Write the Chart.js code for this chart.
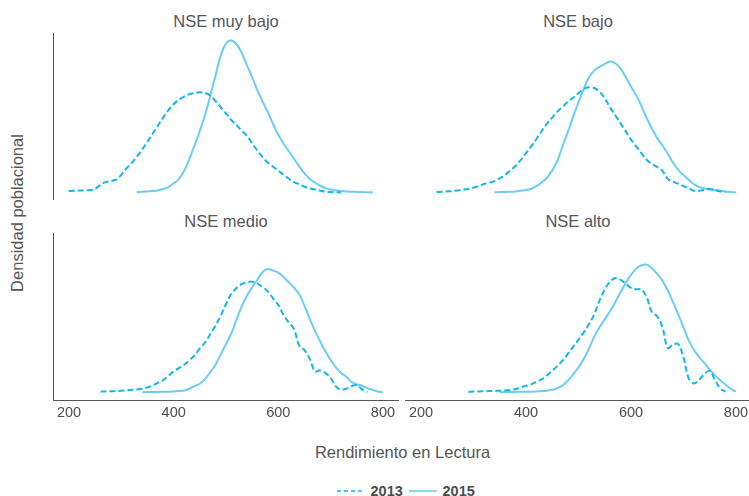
<!DOCTYPE html>
<html lang="es">
<head>
<meta charset="utf-8">
<title>Densidad poblacional según NSE</title>
<script src="https://cdn.jsdelivr.net/npm/chart.js@4.4.1/dist/chart.umd.min.js"></script>
<style>
  html, body { margin: 0; padding: 0; background: #fff; overflow: hidden; }
  body { width: 749px; height: 496px; position: relative; font-family: 'Liberation Sans', Arial, sans-serif; color: #555; }
  .panel { position: absolute; }
  .panel canvas { display: block; }
  .texto { position: absolute; transform: translate(-50%, -50%); line-height: 1; white-space: nowrap; font-size: 16.5px; }
  .vertical { transform: translate(-50%, -50%) rotate(-90deg); }
  .leyenda { position: absolute; }
  .etiqueta { position: absolute; transform: translateY(-50%); line-height: 1; font-size: 14.5px; font-weight: bold; color: #4d4d4d; }
</style>
</head>
<body>

<div class="texto" style="left:226px; top:20.5px;">NSE muy bajo</div>
<div class="texto" style="left:578px; top:20.5px;">NSE bajo</div>
<div class="texto" style="left:226px; top:220.5px;">NSE medio</div>
<div class="texto" style="left:578px; top:220.5px;">NSE alto</div>
<div class="texto vertical" style="left:17px; top:212.5px;">Densidad poblacional</div>
<div class="texto" style="left:402.5px; top:451.5px;">Rendimiento en Lectura</div>

<svg class="leyenda" style="left:337px; top:486px;" width="28" height="10">
  <line x1="0" y1="5" x2="28" y2="5" stroke="#12b7ea" stroke-width="1.6" stroke-dasharray="4 3"/>
</svg>
<div class="etiqueta" style="left:370.5px; top:491px;">2013</div>
<svg class="leyenda" style="left:409px; top:486px;" width="28" height="10">
  <line x1="0" y1="5" x2="28" y2="5" stroke="#6ccdf4" stroke-width="1.6"/>
</svg>
<div class="etiqueta" style="left:442.5px; top:491px;">2015</div>

<script>
// Puntajes de lectura donde se evalua la densidad
const puntajes = [200, 210, 220, 230, 240, 250, 260, 270, 280, 290,
  300, 310, 320, 330, 340, 350, 360, 370, 380, 390,
  400, 410, 420, 430, 440, 450, 460, 470, 480, 490,
  500, 510, 520, 530, 540, 550, 560, 570, 580, 590,
  600, 610, 620, 630, 640, 650, 660, 670, 680, 690,
  700, 710, 720, 730, 740, 750, 760, 770, 780, 790, 800];
const marcasX = [200, 400, 600, 800];

// Densidad (escala relativa) por NSE y año; null fuera del rango de datos
const muyBajo2013 = [4, 5, 6, 6, 7, 10, 22, 31, 34, 38,
  52, 72, 88, 107, 128, 152, 176, 200, 224, 246,
  264, 278, 287, 294, 298, 300, 298, 290, 274, 255,
  237, 217, 202, 185, 170, 146, 125, 105, 89, 77,
  65, 53, 41, 31, 24, 17, 12, 9, 5, 2,
  1, 0.5, 0, null, null, null, null, null, null, null, null];
const muyBajo2015 = [null, null, null, null, null, null, null, null, null, null,
  null, null, null, 1, 2, 3, 4, 6, 10, 16,
  27, 40, 64, 100, 140, 184, 232, 290, 350, 410,
  446, 455, 444, 418, 381, 345, 306, 272, 240, 204,
  172, 146, 123, 100, 77, 56, 40, 29, 20, 13,
  9, 6, 4, 3, 2, 1.5, 1, 0.5, 0.5, null, null];

const bajo2013 = [null, null, null, 1, 2, 3, 4, 6, 8, 10,
  14, 19, 25, 29, 34, 42, 52, 65, 79, 97,
  117, 138, 160, 184, 206, 224, 242, 257, 272, 284,
  298, 310, 315, 313, 302, 282, 255, 231, 207, 183,
  158, 137, 117, 97, 85, 76, 64, 40, 32, 26,
  19, 12, 5, 5, 8, 10, 7, 3, 1, null, null];
const bajo2015 = [null, null, null, null, null, null, null, null, null, null,
  null, null, null, null, 0.5, 1, 1.5, 2, 3, 5,
  7, 11, 19, 30, 44, 66, 95, 140, 182, 228,
  270, 310, 345, 365, 376, 385, 392, 387, 371, 345,
  317, 290, 258, 222, 190, 162, 140, 116, 88, 67,
  52, 37, 24, 16, 12, 9, 7, 5, 3, 1, 0];

const medio2013 = [null, null, null, null, null, null, 2, 3, 3.5, 4,
  5, 6, 8, 9, 11, 15, 21, 29, 37, 50,
  63, 73, 83, 96, 111, 132, 150, 175, 200, 230,
  265, 295, 313, 325, 330, 332, 326, 316, 302, 282,
  262, 232, 210, 190, 140, 127, 100, 63, 66, 58,
  44, 18, 8, 11, 19, 22, 9, 1, null, null, null];
const medio2015 = [null, null, null, null, null, null, null, null, null, null,
  null, null, null, null, 0.5, 1, 1, 1.5, 2, 2,
  3, 4, 6, 11, 19, 26, 40, 61, 83, 114,
  145, 176, 218, 258, 290, 315, 337, 361, 370, 365,
  359, 346, 330, 314, 294, 260, 221, 185, 153, 123,
  97, 75, 58, 47, 31, 24, 20, 13, 8, 3, 0];

const alto2013 = [null, null, null, null, null, null, null, null, null, 2,
  2.5, 3, 3.5, 4, 4.5, 5, 6, 7, 10, 15,
  20, 25, 32, 40, 51, 65, 80, 96, 116, 137,
  158, 180, 205, 234, 275, 308, 332, 343, 338, 326,
  313, 309, 309, 285, 240, 228, 195, 133, 143, 145,
  105, 42, 27, 38, 55, 65, 37, 12, 2, null, null];
const alto2015 = [null, null, null, null, null, null, null, null, null, null,
  null, null, null, null, null, 0.5, 1, 1, 1.5, 2,
  2, 2, 3, 4, 5, 8, 13, 21, 36, 54,
  76, 100, 132, 167, 195, 219, 243, 270, 300, 328,
  352, 371, 381, 383, 372, 355, 335, 306, 271, 234,
  196, 156, 128, 106, 88, 68, 51, 37, 24, 11, 2];

const color2013 = '#12b7ea';
const color2015 = '#6ccdf4';

// Escala vertical comun a los cuatro paneles (5% de margen como ggplot)
const maximo = Math.max(...[muyBajo2013, muyBajo2015, bajo2013, bajo2015,
  medio2013, medio2015, alto2013, alto2015].flat().filter(v => v !== null));

const paneles = [
  { serie2013: muyBajo2013, serie2015: muyBajo2015, left: 53, top: 33, width: 346, ejeX: false, ejeY: true },
  { serie2013: bajo2013, serie2015: bajo2015, left: 405, top: 33, width: 347, ejeX: false, ejeY: false },
  { serie2013: medio2013, serie2015: medio2015, left: 53, top: 233, width: 346, ejeX: true, ejeY: true },
  { serie2013: alto2013, serie2015: alto2015, left: 405, top: 233, width: 347, ejeX: true, ejeY: false }
];

function puntos(serie) {
  return puntajes
    .map((x, i) => ({ x: x, y: serie[i] }))
    .filter(p => p.y !== null);
}

function crearPanel(p) {
  const altoArea = 167;
  const altoEje = p.ejeX ? 25 : 0;
  const alto = altoArea + altoEje;

  const caja = document.createElement('div');
  caja.className = 'panel';
  caja.style.left = p.left + 'px';
  caja.style.top = p.top + 'px';
  const canvas = document.createElement('canvas');
  canvas.width = p.width;
  canvas.height = alto;
  canvas.style.width = p.width + 'px';
  canvas.style.height = alto + 'px';
  caja.appendChild(canvas);
  document.body.appendChild(caja);

  new Chart(canvas.getContext('2d'), {
    type: 'line',
    data: {
      datasets: [
        {
          label: '2013',
          data: puntos(p.serie2013),
          borderColor: color2013,
          borderWidth: 2,
          borderDash: [6, 3],
          pointRadius: 0,
          tension: 0.35,
          fill: false
        },
        {
          label: '2015',
          data: puntos(p.serie2015),
          borderColor: color2015,
          borderWidth: 2,
          pointRadius: 0,
          tension: 0.35,
          fill: false
        }
      ]
    },
    options: {
      responsive: false,
      animation: false,
      events: [],
      layout: { padding: 0, autoPadding: false },
      plugins: {
        legend: { display: false },
        tooltip: { enabled: false }
      },
      scales: {
        x: {
          type: 'linear',
          min: 170,
          max: 830,
          display: p.ejeX,
          grid: { display: false, drawTicks: false },
          border: { display: true, color: '#555', width: 1 },
          ticks: {
            padding: 4,
            color: '#4d4d4d',
            font: { family: "'Liberation Sans', Arial, sans-serif", size: 14.5 }
          },
          afterBuildTicks: s => { s.ticks = marcasX.map(v => ({ value: v })); },
          afterFit: s => { s.height = altoEje; }
        },
        y: {
          type: 'linear',
          min: -0.05 * maximo,
          max: 1.05 * maximo,
          display: p.ejeY,
          grid: { display: false, drawTicks: false },
          border: { display: true, color: '#555', width: 1 },
          ticks: { display: false },
          afterFit: s => { s.width = 0; }
        }
      }
    }
  });
}

paneles.forEach(crearPanel);
</script>
</body>
</html>
